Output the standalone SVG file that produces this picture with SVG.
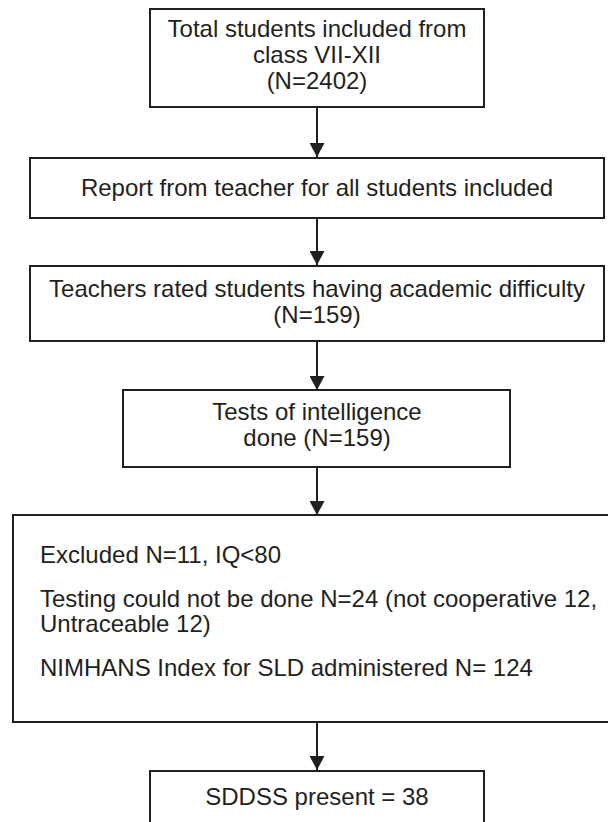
<svg xmlns="http://www.w3.org/2000/svg" width="608" height="822" viewBox="0 0 608 822">
<defs>
<style>
.box{fill:#fff;stroke:#231f20;stroke-width:2}
.t{font-family:"Liberation Sans",Arial,sans-serif;font-size:24px;fill:#231f20}
.c{text-anchor:middle}
.ln{stroke:#231f20;stroke-width:2;fill:none}
</style>
<marker id="ah" viewBox="0 0 14 15" refX="14" refY="7.5" markerWidth="14" markerHeight="15" markerUnits="userSpaceOnUse" orient="auto"><path d="M0,0 L14,7.5 L0,15 z" fill="#231f20"/></marker>
</defs>
<rect width="608" height="822" fill="#fff"/>
<g id="connectors">
<line class="ln" x1="317" y1="107" x2="317" y2="157" marker-end="url(#ah)"/>
<line class="ln" x1="317" y1="218" x2="317" y2="265" marker-end="url(#ah)"/>
<line class="ln" x1="317" y1="341" x2="317" y2="390" marker-end="url(#ah)"/>
<line class="ln" x1="317" y1="467" x2="317" y2="515" marker-end="url(#ah)"/>
<line class="ln" x1="317" y1="722" x2="317" y2="770" marker-end="url(#ah)"/>
</g>
<g id="n1">
<rect class="box" x="150" y="9" width="334" height="98"/>
<text class="t c" x="317" y="37">Total students included from</text>
<text class="t c" x="317" y="63">class VII-XII</text>
<text class="t c" x="317" y="89">(N=2402)</text>
</g>
<g id="n2">
<rect class="box" x="30" y="158" width="574" height="60"/>
<text class="t c" x="317" y="196">Report from teacher for all students included</text>
</g>
<g id="n3">
<rect class="box" x="30" y="266" width="574" height="75"/>
<text class="t c" x="317" y="297">Teachers rated students having academic difficulty</text>
<text class="t c" x="317" y="323">(N=159)</text>
</g>
<g id="n4">
<rect class="box" x="123" y="390" width="387" height="77"/>
<text class="t c" x="317" y="420">Tests of intelligence</text>
<text class="t c" x="317" y="446">done  (N=159)</text>
</g>
<g id="n5">
<rect class="box" x="13" y="515" width="620" height="207"/>
<text class="t" x="40" y="563">Excluded N=11, IQ&lt;80</text>
<text class="t" x="40" y="607">Testing could not be done N=24 (not cooperative 12,</text>
<text class="t" x="40" y="632">Untraceable 12)</text>
<text class="t" x="40" y="676">NIMHANS Index for SLD administered N= 124</text>
</g>
<g id="n6">
<rect class="box" x="150" y="771" width="334" height="60"/>
<text class="t c" x="317" y="805">SDDSS present = 38</text>
</g>
</svg>
